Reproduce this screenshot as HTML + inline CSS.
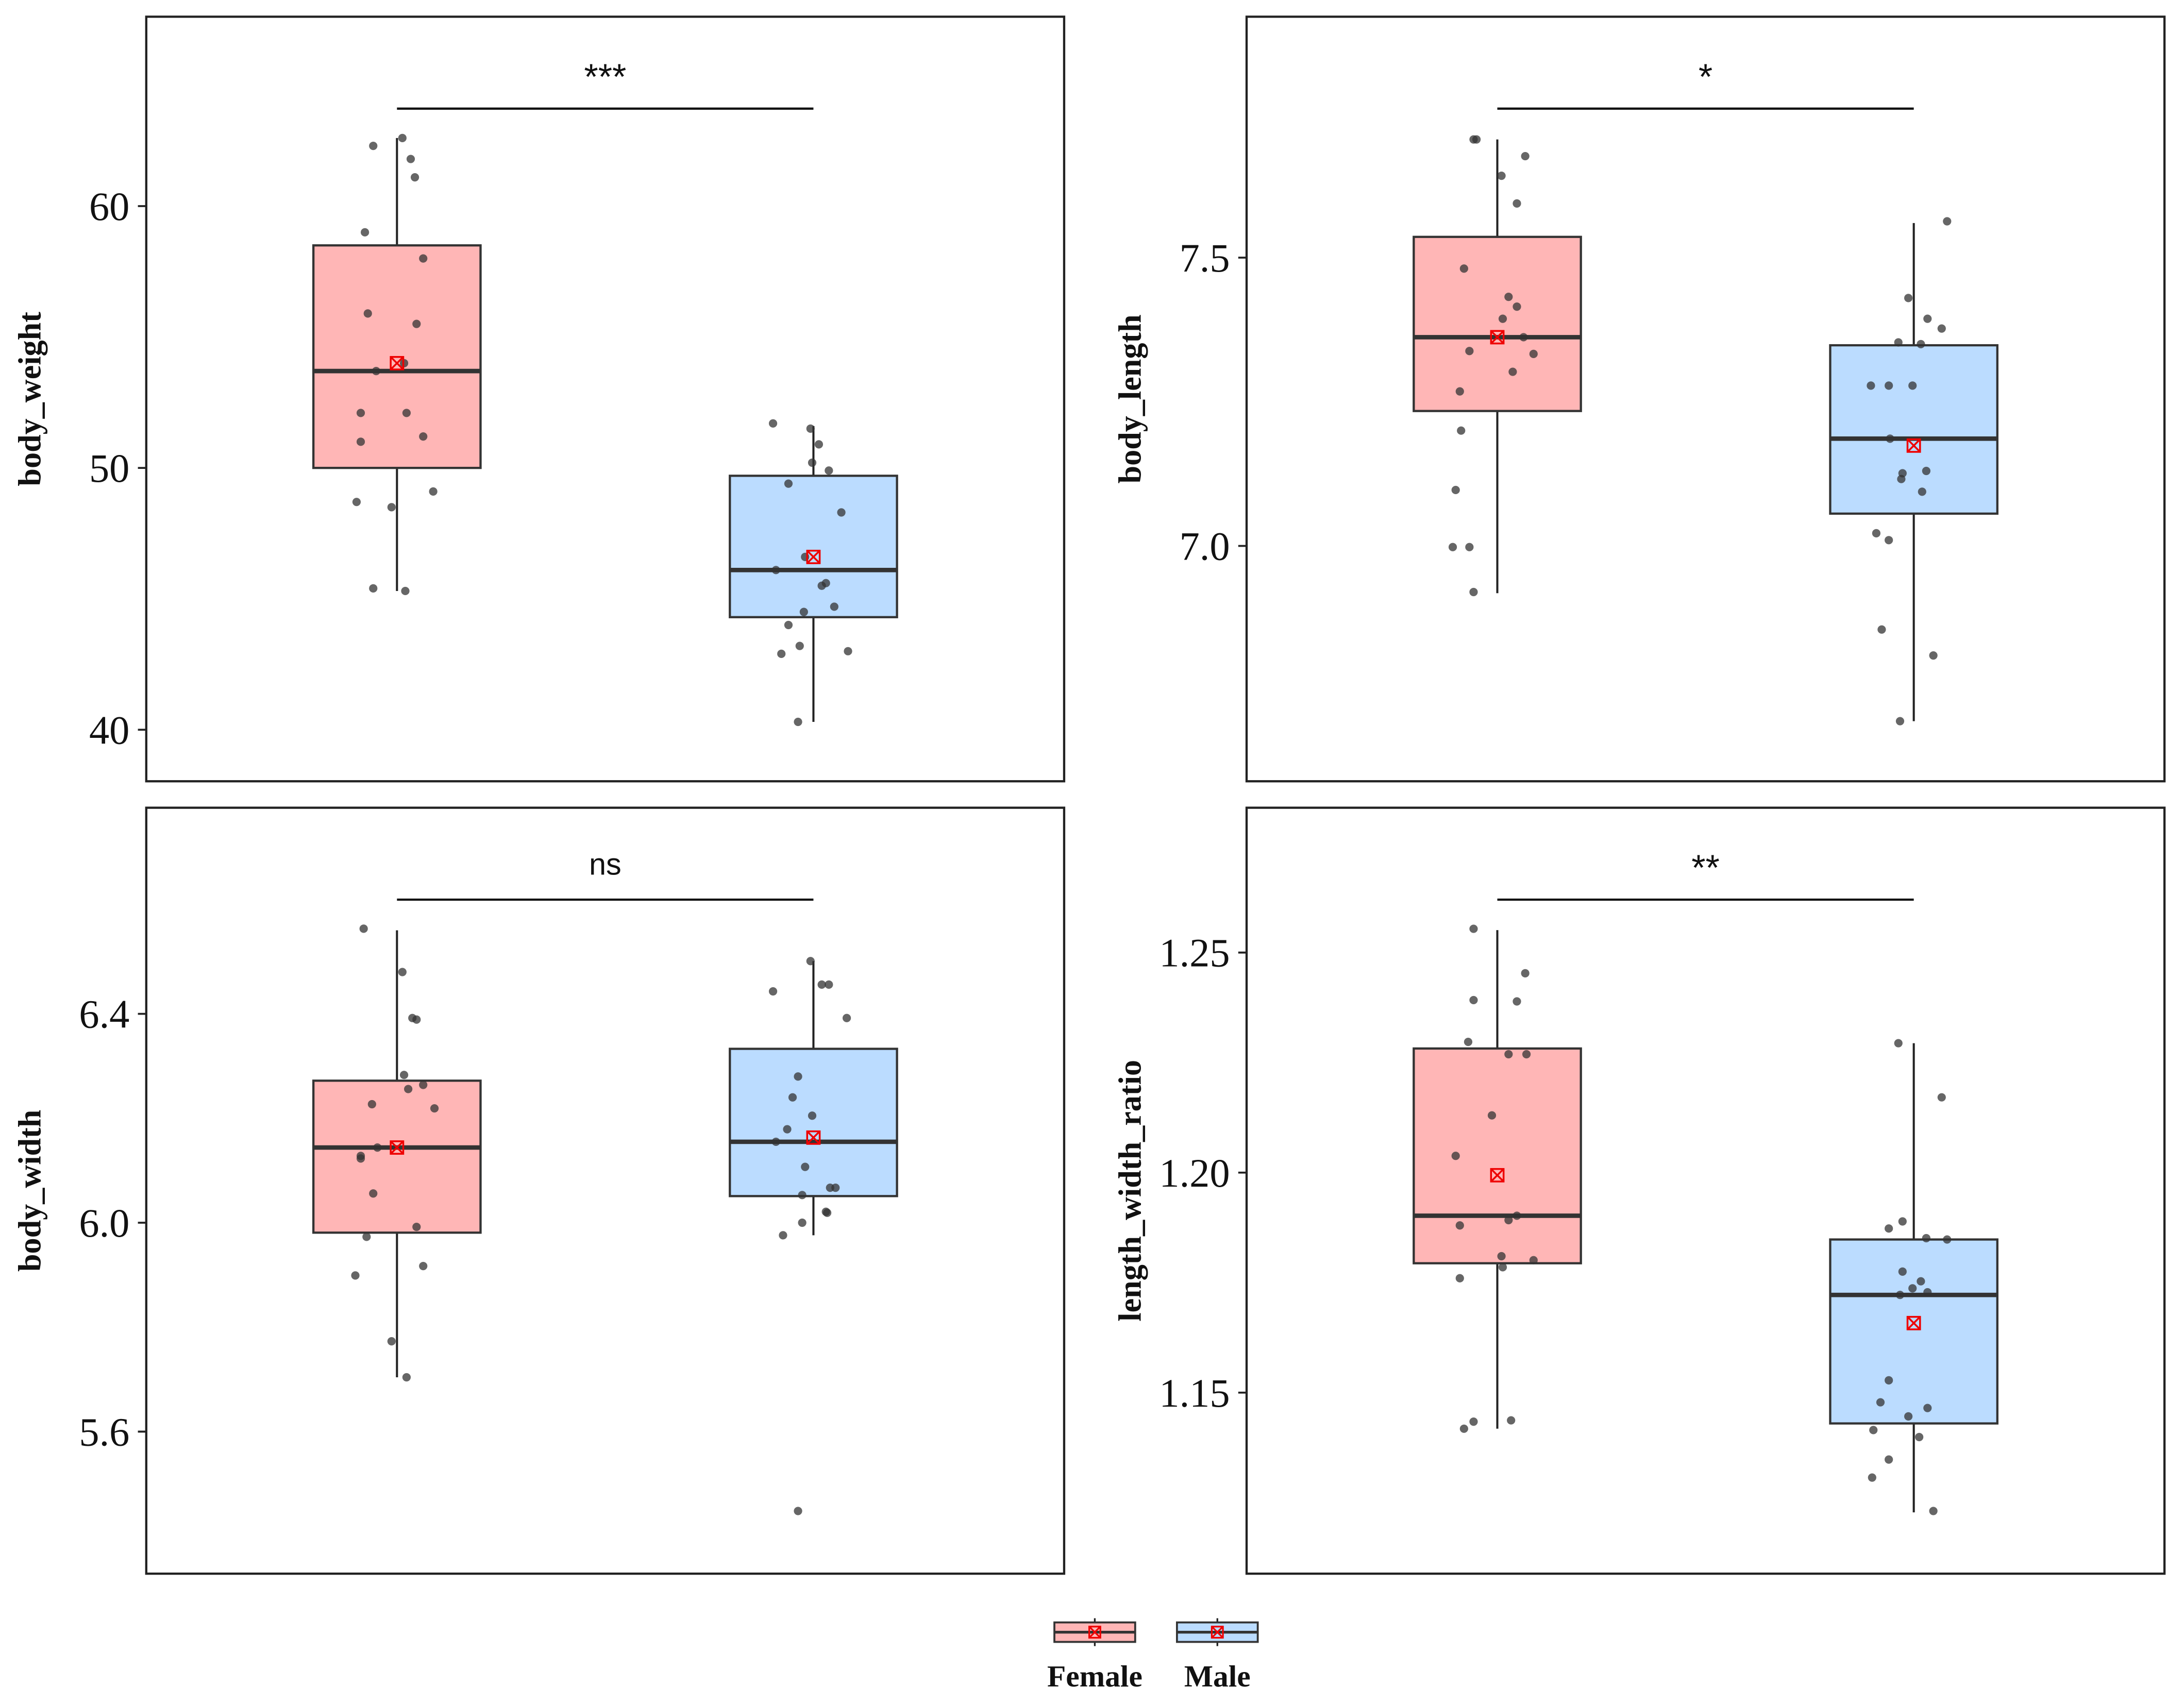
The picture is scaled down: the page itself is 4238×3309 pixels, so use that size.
<!DOCTYPE html>
<html><head><meta charset="utf-8"><style>
html,body{margin:0;padding:0;background:#fff}
svg{display:block}
</style></head><body>
<svg id="chart" width="4238" height="3309" viewBox="0 0 1568 1224.3" xmlns="http://www.w3.org/2000/svg">
<rect width="1568" height="1224.3" fill="#fff"/>
<g id="root"></g>
</svg>
<script>
// ---- data ----
const groups = ["Female","Male"];
const sigLabels = ["***","*","ns","**"];
const yTitles = ["body_weight","body_length","body_width","length_width_ratio"];
const tickVals1 = [40,50,60];
const tickVals2 = [7.0,7.5];
const tickVals3 = [5.6,6.0,6.4];
const tickVals4 = [1.15,1.20,1.25];
const tickText1 = ["40","50","60"];
const tickText2 = ["7.0","7.5"];
const tickText3 = ["5.6","6.0","6.4"];
const tickText4 = ["1.15","1.20","1.25"];
// box stats per group: [lowWhisker, q1, median, q3, highWhisker, mean]
const stats1F = [45.3,50.0,53.7,58.5,62.6,54.0];
const stats1M = [40.3,44.3,46.1,49.7,51.6,46.6];
const stats2F = [6.918,7.234,7.362,7.536,7.705,7.362];
const stats2M = [6.696,7.056,7.186,7.348,7.56,7.174];
const stats3F = [5.704,5.981,6.144,6.272,6.56,6.144];
const stats3M = [5.976,6.051,6.155,6.333,6.501,6.163];
const stats4F = [1.1418,1.1794,1.1902,1.2282,1.2551,1.1994];
const stats4M = [1.1228,1.1430,1.1722,1.1848,1.2294,1.1658];
// raw observations
const pts1F = [62.3,62.6,61.8,61.1,59.0,58.0,55.9,55.5,53.7,54.0,52.1,52.1,51.2,51.0,49.1,48.7,48.5,45.4,45.3];
const pts1M = [51.7,51.5,50.9,50.2,49.9,49.4,48.3,46.6,46.1,45.6,45.5,44.5,44.7,44.0,43.2,42.9,43.0,40.3];
const pts2F = [7.705,7.705,7.676,7.642,7.594,7.481,7.432,7.415,7.394,7.362,7.338,7.333,7.302,7.268,7.2,7.097,6.998,6.998,6.92];
const pts2M = [7.563,7.43,7.394,7.377,7.353,7.35,7.278,7.278,7.278,7.186,7.126,7.13,7.116,7.094,7.022,7.01,6.855,6.81,6.696];
const pts3F = [6.563,6.48,6.392,6.389,6.283,6.264,6.256,6.219,6.227,6.128,6.123,6.144,6.056,5.992,5.973,5.917,5.899,5.773,5.704];
const pts3M = [6.501,6.456,6.456,6.443,6.392,6.28,6.24,6.205,6.179,6.155,6.107,6.053,6.067,6.067,6.021,5.976,6.0,6.019,5.448];
const pts4F = [1.2554,1.2453,1.2389,1.2392,1.2297,1.2269,1.2269,1.213,1.2038,1.1902,1.1892,1.188,1.181,1.1801,1.1785,1.176,1.1434,1.1437,1.1418];
const pts4M = [1.2294,1.2171,1.1889,1.1873,1.1851,1.1848,1.1775,1.1753,1.1737,1.1722,1.1728,1.1528,1.1478,1.1465,1.1446,1.1415,1.1399,1.1348,1.1307,1.1231];
// horizontal jitter, in thousandths of the group spacing
const jit1F = [-57,13,33,43,-77,63,-70,47,-50,17,-87,23,63,-87,87,-97,-13,-57,20];
const jit1M = [-97,-7,13,-3,37,-60,67,-20,-90,30,20,-23,50,-60,-33,-77,83,-37];
const jit2F = [-57,-50,67,10,47,-80,27,47,13,63,-67,87,37,-90,-87,-100,-107,-67,-57];
const jit2M = [80,-13,33,67,-37,17,-103,-60,-3,-57,-27,30,-30,20,-90,-60,-77,47,-33];
const jit3F = [-80,13,37,47,17,63,27,90,-60,-87,-87,-47,-57,47,-73,63,-100,-13,23];
const jit3M = [-7,20,37,-97,80,-37,-50,-3,-63,-90,-20,-27,53,40,30,-73,-27,33,-37];
const jit4F = [-57,67,47,-57,-70,27,70,-13,-100,47,27,-90,10,87,13,-90,-57,33,-80];
const jit4M = [-37,67,-27,-60,30,80,-27,17,-3,-33,33,-60,-80,33,-13,-97,13,-60,-100,47];

// ---- layout ----
const panels = [
  {x0:105,x1:764,y0:12,y1:561, vA:60, pA:148, vB:40, pB:524, ticks:tickVals1, tt:tickText1, sF:stats1F, sM:stats1M, pF:pts1F, pM:pts1M, jF:jit1F, jM:jit1M},
  {x0:895,x1:1554,y0:12,y1:561, vA:7.5, pA:185, vB:7.0, pB:392, ticks:tickVals2, tt:tickText2, sF:stats2F, sM:stats2M, pF:pts2F, pM:pts2M, jF:jit2F, jM:jit2M},
  {x0:105,x1:764,y0:580,y1:1130, vA:6.4, pA:728, vB:5.6, pB:1028, ticks:tickVals3, tt:tickText3, sF:stats3F, sM:stats3M, pF:pts3F, pM:pts3M, jF:jit3F, jM:jit3M},
  {x0:895,x1:1554,y0:580,y1:1130, vA:1.25, pA:684, vB:1.15, pB:1000, ticks:tickVals4, tt:tickText4, sF:stats4F, sM:stats4M, pF:pts4F, pM:pts4M, jF:jit4F, jM:jit4M}
];
const NS="http://www.w3.org/2000/svg";
const root=document.getElementById('root');
function mk(tag,attrs,parent){const e=document.createElementNS(NS,tag);for(const k in attrs)e.setAttribute(k,attrs[k]);(parent||root).appendChild(e);return e;}
const fills=["#ffb6b6","#bbdcff"];
const serif='"Liberation Serif", serif';
const sans='"Liberation Sans", sans-serif';

panels.forEach((P,pi)=>{
  const g=mk('g',{});
  
  
  const yS=v=>P.pA+(v-P.vA)*(P.pB-P.pA)/(P.vB-P.vA);
  const cx=[P.x0+180,P.x0+479];
  const band=299;
  const frame=mk('rect',{x:P.x0,y:P.y0,width:P.x1-P.x0,height:P.y1-P.y0,fill:'none',stroke:'#222','stroke-width':1.6},g);
  
  
  P.ticks.forEach((t,i)=>{
    const y=yS(t);
    const tk=mk('line',{x1:P.x0-6,x2:P.x0,y1:y,y2:y,stroke:'#222','stroke-width':1.4},g);
    
    
    const tl=mk('text',{x:P.x0-12,y:y+10,'text-anchor':'end','font-family':serif,'font-size':29,fill:'#111'},g);
    tl.textContent=P.tt[i];
    
    
  });
  const tx=P.x0-76, ty=(P.y0+P.y1)/2;
  const title=mk('text',{x:tx,y:ty,transform:`rotate(-90 ${tx} ${ty})`,'text-anchor':'middle','font-family':serif,'font-weight':'bold','font-size':23,fill:'#111'},g);
  title.textContent=yTitles[pi];
  
  
  const sy=P.y0+66;
  const sl=mk('line',{x1:cx[0],x2:cx[1],y1:sy,y2:sy,stroke:'#111','stroke-width':1.6},g);
  
  
  const isStar=sigLabels[pi].indexOf('*')>=0;
  const st=mk('text',{x:(cx[0]+cx[1])/2,y:isStar?sy-14:sy-18,'text-anchor':'middle','font-family':sans,'font-size':isStar?26:22,fill:'#111'},g);
  st.textContent=sigLabels[pi];
  
  
  [[P.sF,P.pF,P.jF],[P.sM,P.pM,P.jM]].forEach(([s,pts,jit],gi)=>{
    const c=cx[gi];
    const wl=mk('line',{x1:c,x2:c,y1:yS(s[0]),y2:yS(s[4]),stroke:'#222','stroke-width':1.5},g);
    
    
    const bx=mk('rect',{x:c-60,y:yS(s[3]),width:120,height:yS(s[1])-yS(s[3]),fill:fills[gi],stroke:'#333','stroke-width':1.6},g);
    
    
    const md=mk('line',{x1:c-60,x2:c+60,y1:yS(s[2]),y2:yS(s[2]),stroke:'#333','stroke-width':3.2},g);
    
    
    pts.forEach((v,i)=>{
      const pt=mk('circle',{cx:c+jit[i]/1000*band,cy:yS(v),r:3,fill:'#333','fill-opacity':0.75},g);
      
      
    });
    const my=yS(s[5]);
    const mg=mk('g',{stroke:'#e00','stroke-width':1.3,fill:'none'},g);
    
    
    mk('rect',{x:c-4.5,y:my-4.5,width:9,height:9},mg);
    mk('line',{x1:c-4.5,y1:my-4.5,x2:c+4.5,y2:my+4.5},mg);
    mk('line',{x1:c+4.5,y1:my-4.5,x2:c-4.5,y2:my+4.5},mg);
  });
});

// legend
const lg=mk('g',{});


groups.forEach((name,i)=>{
  const cx=786+i*88;
  const e=mk('g',{},lg);
  
  
  mk('line',{x1:cx,x2:cx,y1:1162,y2:1182,stroke:'#222','stroke-width':1.2},e);
  mk('rect',{x:cx-29,y:1165,width:58,height:14,fill:fills[i],stroke:'#333','stroke-width':1.4},e);
  mk('line',{x1:cx-29,x2:cx+29,y1:1172,y2:1172,stroke:'#333','stroke-width':2},e);
  mk('rect',{x:cx-4,y:1168,width:8,height:8,fill:'none',stroke:'#e00','stroke-width':1.2},e);
  mk('line',{x1:cx-4,y1:1168,x2:cx+4,y2:1176,stroke:'#e00','stroke-width':1.2},e);
  mk('line',{x1:cx+4,y1:1168,x2:cx-4,y2:1176,stroke:'#e00','stroke-width':1.2},e);
  const t=mk('text',{x:cx,y:1211,'text-anchor':'middle','font-family':serif,'font-weight':'bold','font-size':22,fill:'#111'},e);
  t.textContent=name;
});
</script>
</body></html>
